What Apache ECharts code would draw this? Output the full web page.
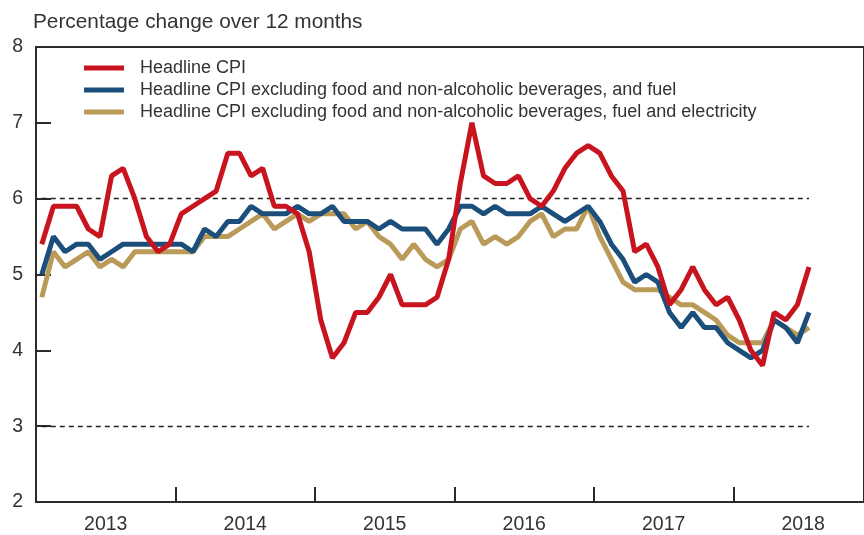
<!DOCTYPE html>
<html>
<head>
<meta charset="utf-8">
<script src="https://cdn.jsdelivr.net/npm/echarts@6/dist/echarts.min.js"></script>
<style>
html,body{margin:0;padding:0;background:#fff;}
#chart{width:864px;height:535px;}
</style>
</head>
<body>
<div id="chart"></div>
<script>
// Year labels on the axis
var years = ['2013', '2014', '2015', '2016', '2017', '2018'];
// Months shown on the x axis (axis spans Jan 2013 to the right edge)
var axisMonths = 71.23;

// Series values, Jan 2013 - Jul 2018 (per cent, year-on-year)
var headlineCPI = [
  5.4, 5.9, 5.9, 5.9, 5.6, 5.5, 6.3, 6.4, 6.0, 5.5, 5.3, 5.4,
  5.8, 5.9, 6.0, 6.1, 6.6, 6.6, 6.3, 6.4, 5.9, 5.9, 5.8, 5.3,
  4.4, 3.9, 4.1, 4.5, 4.5, 4.7, 5.0, 4.6, 4.6, 4.6, 4.7, 5.2,
  6.2, 7.0, 6.3, 6.2, 6.2, 6.3, 6.0, 5.9, 6.1, 6.4, 6.6, 6.7,
  6.6, 6.3, 6.1, 5.3, 5.4, 5.1, 4.6, 4.8, 5.1, 4.8, 4.6, 4.7,
  4.4, 4.0, 3.8, 4.5, 4.4, 4.6, 5.1
];
var exFoodFuel = [
  5.0, 5.5, 5.3, 5.4, 5.4, 5.2, 5.3, 5.4, 5.4, 5.4, 5.4, 5.4,
  5.4, 5.3, 5.6, 5.5, 5.7, 5.7, 5.9, 5.8, 5.8, 5.8, 5.9, 5.8,
  5.8, 5.9, 5.7, 5.7, 5.7, 5.6, 5.7, 5.6, 5.6, 5.6, 5.4, 5.6,
  5.9, 5.9, 5.8, 5.9, 5.8, 5.8, 5.8, 5.9, 5.8, 5.7, 5.8, 5.9,
  5.7, 5.4, 5.2, 4.9, 5.0, 4.9, 4.5, 4.3, 4.5, 4.3, 4.3, 4.1,
  4.0, 3.9, 4.0, 4.4, 4.3, 4.1, 4.5
];
var exFoodFuelElec = [
  4.7, 5.3, 5.1, 5.2, 5.3, 5.1, 5.2, 5.1, 5.3, 5.3, 5.3, 5.3,
  5.3, 5.3, 5.5, 5.5, 5.5, 5.6, 5.7, 5.8, 5.6, 5.7, 5.8, 5.7,
  5.8, 5.8, 5.8, 5.6, 5.7, 5.5, 5.4, 5.2, 5.4, 5.2, 5.1, 5.2,
  5.6, 5.7, 5.4, 5.5, 5.4, 5.5, 5.7, 5.8, 5.5, 5.6, 5.6, 5.9,
  5.5, 5.2, 4.9, 4.8, 4.8, 4.8, 4.7, 4.6, 4.6, 4.5, 4.4, 4.2,
  4.1, 4.1, 4.1, 4.4, 4.3, 4.2, 4.3
];
var seriesNames = [
  'Headline CPI',
  'Headline CPI excluding food and non-alcoholic beverages, and fuel',
  'Headline CPI excluding food and non-alcoholic beverages, fuel and electricity'
];
var refLines = [6, 3];
var yTicks = { min: 2, max: 8, interval: 1 };

var FONT = 'Liberation Sans';
var TXT = '#333333';
var AX = '#2b2b2b';

// month index -> centre of month on the time axis (in months since Jan 2013)
function toPairs(arr) { return arr.map(function (v, i) { return [i + 0.5, v]; }); }
var yearBoundaries = years.slice(1).map(function (y, i) { return (i + 1) * 12; });
var yearCentres = years.map(function (y, i) { return i * 12 + 6; });
var lastX = headlineCPI.length - 0.5;

var chart = echarts.init(document.getElementById('chart'), null, { renderer: 'canvas' });

var option = {
  animation: false,
  backgroundColor: '#ffffff',
  title: {
    text: 'Percentage change over 12 months',
    left: 30, top: 12, padding: [0, 0, 0, 3],
    textStyle: { fontFamily: FONT, fontSize: 20.8, fontWeight: 'normal', color: TXT }
  },
  legend: {
    orient: 'vertical',
    left: 84, top: 59, padding: 0,
    icon: 'rect',
    itemWidth: 40, itemHeight: 5,
    itemGap: 4,
    textStyle: { fontFamily: FONT, fontSize: 18, color: TXT, padding: [0, 0, 0, 11] },
    data: seriesNames
  },
  grid: {
    left: 36, top: 47, right: 0, bottom: 32,
    show: true, borderColor: AX, borderWidth: 2,
    containLabel: false
  },
  xAxis: {
    type: 'value', min: 0, max: axisMonths,
    axisLine: { show: true, onZero: false, lineStyle: { color: AX, width: 2 } },
    axisTick: { show: true, inside: true, length: 15, customValues: yearBoundaries, lineStyle: { color: AX, width: 2 } },
    axisLabel: {
      show: true, fontFamily: FONT, fontSize: 19.5, color: TXT, margin: 13,
      customValues: yearCentres,
      formatter: function (v) { return years[Math.floor(v / 12)] || ''; }
    },
    splitLine: { show: false }
  },
  yAxis: {
    type: 'value', min: yTicks.min, max: yTicks.max, interval: yTicks.interval,
    axisLine: { show: true, lineStyle: { color: AX, width: 2 } },
    axisTick: { show: true, inside: true, length: 15, lineStyle: { color: AX, width: 2 } },
    axisLabel: { fontFamily: FONT, fontSize: 19.5, color: TXT, margin: 13 },
    splitLine: { show: false }
  },
  series: [
    {
      name: seriesNames[2], type: 'line', data: toPairs(exFoodFuelElec),
      showSymbol: false, symbol: 'none', z: 3,
      lineStyle: { color: '#BA9A59', width: 5 }, itemStyle: { color: '#BA9A59' },
      markLine: {
        silent: true, symbol: 'none', label: { show: false },
        lineStyle: { color: '#222222', width: 1.3, type: [5, 4] },
        data: refLines.map(function (v) {
          return [{ coord: [0.5, v] }, { coord: [lastX, v] }];
        })
      }
    },
    {
      name: seriesNames[1], type: 'line', data: toPairs(exFoodFuel),
      showSymbol: false, symbol: 'none', z: 4,
      lineStyle: { color: '#1C4E7C', width: 5 }, itemStyle: { color: '#1C4E7C' }
    },
    {
      name: seriesNames[0], type: 'line', data: toPairs(headlineCPI),
      showSymbol: false, symbol: 'none', z: 5,
      lineStyle: { color: '#C8141E', width: 5 }, itemStyle: { color: '#C8141E' }
    }
  ]
};
chart.setOption(option);
</script>
</body>
</html>
